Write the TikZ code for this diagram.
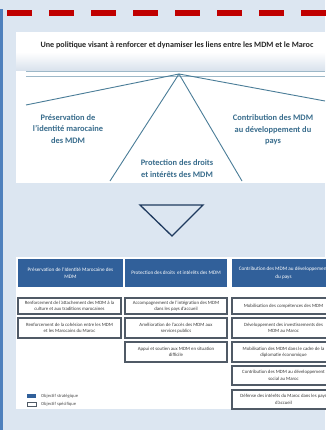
\documentclass[tikz,border=0pt]{standalone}
\usepackage{fontspec}
\setmainfont{Carlito}
\definecolor{bgc}{HTML}{DCE6F1}
\definecolor{barblue}{HTML}{4F81BD}
\definecolor{dashred}{HTML}{C00000}
\definecolor{tealtxt}{HTML}{386C8C}
\definecolor{branch}{HTML}{4A7D98}
\definecolor{thinl}{HTML}{9DB8C8}
\definecolor{navy}{HTML}{1F3A5F}
\definecolor{hdrblue}{HTML}{31609A}
\definecolor{boxline}{HTML}{505A66}
\definecolor{boxtxt}{HTML}{3A3A3A}
\definecolor{barbot}{HTML}{D8E1EC}
\begin{document}
\begin{tikzpicture}[x=1pt,y=-1pt,
  titletext/.style={font=\bfseries\fontsize{8.1}{9}\selectfont, text=black!85, inner sep=0},
  pillar/.style={font=\bfseries\fontsize{8.4}{11.5}\selectfont, text=tealtxt, align=center, inner sep=0},
  branchline/.style={draw=branch, line width=0.9pt},
  hdr/.style={fill=hdrblue, text=white, align=center, inner sep=0, font=\fontsize{5.2}{7.6}\selectfont, minimum height=28pt},
  obox/.style={draw=boxline, line width=1.1pt, fill=white, text=boxtxt, align=center, inner sep=0, font=\fontsize{4.8}{6.4}\selectfont},
  legtxt/.style={font=\fontsize{4.6}{5}\selectfont, text=black!70, anchor=west, inner sep=0}
]
\useasboundingbox (0,0) rectangle (325,430);
\fill[bgc] (0,0) rectangle (325,430);
\fill[barblue] (0,9) rectangle (3,430);
\foreach \i in {0,...,7} \fill[dashred] ({7+42*\i},10) rectangle ++(25,6.5);

% top panel
\fill[white] (16,33) rectangle (325,183);
\shade[top color=white, bottom color=barbot, middle color=white] (16,33) rectangle (325,71);
\node[titletext] (title) at (177,45) {Une politique visant à renforcer et dynamiser les liens entre les MDM et le Maroc};
\coordinate (dl1a) at (26,71.5); \coordinate (dl1b) at (325,71.5);
\coordinate (dl2a) at (26,76); \coordinate (dl2b) at (325,76);
\draw[thinl, line width=1pt] (dl1a) -- (dl1b);
\draw[thinl, line width=0.7pt] (dl2a) -- (dl2b);

\coordinate (apex) at (179,74);
\coordinate (eL) at (26,105);
\coordinate (eR) at (325,101);
\coordinate (eC1) at (110,181);
\coordinate (eC2) at (242,181);
\draw[branchline] (apex) -- (eL);
\draw[branchline] (apex) -- (eR);
\draw[branchline] (apex) -- (eC1);
\draw[branchline] (apex) -- (eC2);

\node[pillar] (p1) at (68,129) {Préservation de\\l'identité marocaine\\des MDM};
\node[pillar] (p3) at (273,130) {Contribution des MDM\\au développement du\\pays};
\node[pillar] (p2) at (177,168.5) {Protection des droits\\et intérêts des MDM};

% down triangle
\coordinate (t1) at (140,205); \coordinate (t2) at (203,205); \coordinate (t3) at (172,236);
\draw[navy, line width=1.3pt, line join=miter] (t1) -- (t2) -- (t3) -- cycle;

% bottom panel
\fill[white] (16,257) rectangle (325,409);

\node[hdr, minimum width=105pt] (h1) at (70.5,273) {Préservation de l'Identité Marocaine des\\MDM};
\node[hdr, minimum width=102pt] (h2) at (176,273) {Protection des droits\, et intérêts des MDM};
\node[hdr, minimum width=103pt] (h3) at (283.5,273) {Contribution des MDM au développement\\du pays};

\node[obox, minimum width=103pt, minimum height=16pt] (a1) at (69.5,306) {Renforcement de l'attachement des MDM à la\\culture et aux traditions marocaines};
\node[obox, minimum width=103pt, minimum height=20pt] (a2) at (69.5,328) {Renforcement de la cohésion entre les MDM\\et les Marocains du Maroc};

\node[obox, minimum width=102pt, minimum height=16pt] (b1) at (176,306) {Accompagnement de l'intégration des MDM\\dans les pays d'accueil};
\node[obox, minimum width=102pt, minimum height=20pt] (b2) at (176,328) {Amélioration de l'accès des MDM aux\\services publics};
\node[obox, minimum width=102pt, minimum height=20pt] (b3) at (176,352) {Appui et soutien aux MDM en situation\\difficile};

\node[obox, minimum width=103pt, minimum height=16pt] (c1) at (283.5,306) {Mobilisation des compétences des MDM};
\node[obox, minimum width=103pt, minimum height=20pt] (c2) at (283.5,328) {Développement des investissements des\\MDM au Maroc};
\node[obox, minimum width=103pt, minimum height=20pt] (c3) at (283.5,352) {Mobilisation des MDM dans le cadre de la\\diplomatie économique};
\node[obox, minimum width=103pt, minimum height=19pt] (c4) at (283.5,375.5) {Contribution des MDM au développement\\social au Maroc};
\node[obox, minimum width=103pt, minimum height=19pt] (c5) at (283.5,399.5) {Défense des intérêts du Maroc dans les pays\\d'accueil};

% legend
\node[fill=hdrblue, minimum width=9pt, minimum height=4pt, inner sep=0] (lg1) at (31.5,396) {};
\node[draw=boxline, line width=0.9pt, fill=white, minimum width=9pt, minimum height=4pt, inner sep=0] (lg2) at (31.5,404) {};
\node[legtxt] (lt1) at (41,396) {Objectif stratégique};
\node[legtxt] (lt2) at (41,404) {Objectif spécifique};
\end{tikzpicture}
\end{document}
